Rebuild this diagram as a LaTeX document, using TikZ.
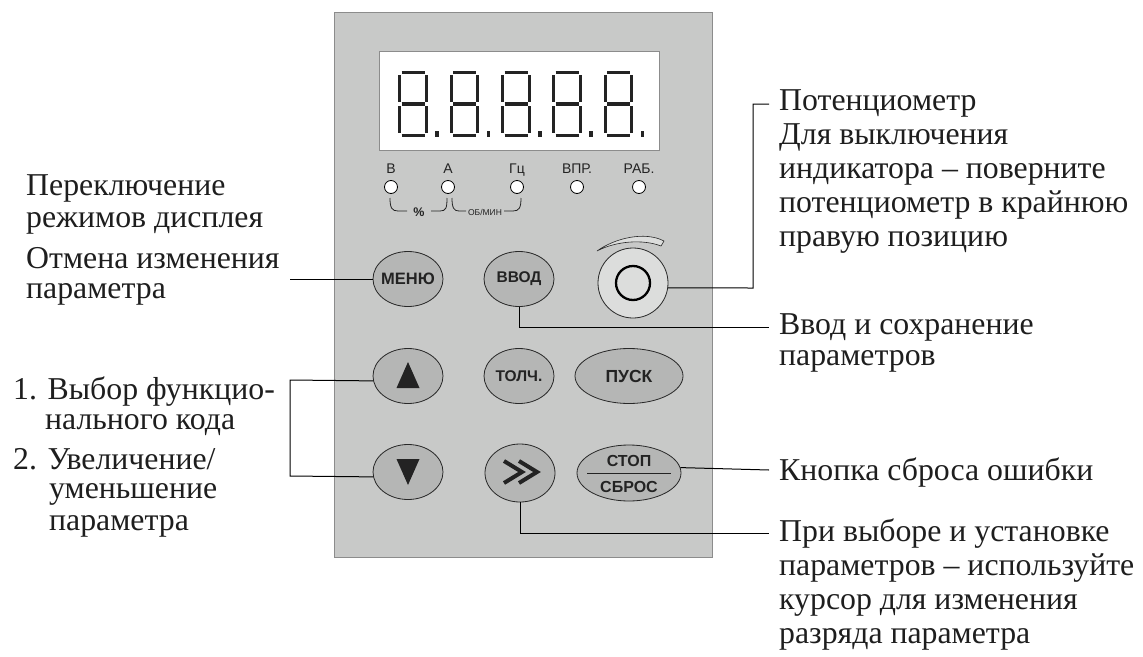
\documentclass[tikz,border=0pt]{standalone}
\usepackage{fontspec}
\setmainfont{Liberation Serif}
\setsansfont{Liberation Sans}
\usetikzlibrary{shapes.geometric}
\definecolor{panelc}{RGB}{200,201,200}
\definecolor{panelline}{RGB}{140,140,140}
\definecolor{btnfill}{RGB}{181,182,181}
\definecolor{btnline}{RGB}{40,40,40}
\definecolor{potc}{RGB}{220,221,220}
\definecolor{inkc}{RGB}{35,35,35}
\definecolor{txtc}{RGB}{30,30,30}
\tikzset{
  lbl/.style={font=\fontsize{31.8}{33}\selectfont, text=txtc, inner sep=0pt, anchor=base west},
  btn/.style={ellipse, draw=btnline, fill=btnfill, line width=0.8pt, inner sep=0pt,
    minimum width=70pt, minimum height=55pt, text=inkc},
  btxt/.style={font=\sffamily\bfseries\fontsize{15.5}{16}\selectfont},
  led/.style={circle, draw=black, fill=white, line width=0.8pt, minimum size=13pt, inner sep=0pt},
  ledlbl/.style={font=\sffamily\fontsize{14}{14}\selectfont, text=inkc, inner sep=0pt},
  conn/.style={draw=black, line width=1pt},
  seg/.style={draw=inkc, line width=3.2pt, line cap=butt},
  brk/.style={draw=inkc, line width=0.8pt}
}
\begin{document}
\begin{tikzpicture}[x=1pt,y=-1pt]
\useasboundingbox (0,0) rectangle (1143,656);
% panel
\draw[panelline, fill=panelc, line width=1pt] (334,12) rectangle (712,557);
% display
\draw[fill=white, draw=panelline, line width=0.8pt] (379,51) rectangle (659,150);
\foreach \x in {398,449.5,501,552,603.5}{
  \draw[seg] (\x+3.5,72.7) -- (\x+26.5,72.7);
  \draw[seg] (\x+1.7,75) -- (\x+1.7,102);
  \draw[seg] (\x+28.3,75) -- (\x+28.3,102);
  \draw[seg] (\x+3.5,104) -- (\x+26.5,104);
  \draw[seg] (\x+1.7,106) -- (\x+1.7,133);
  \draw[seg] (\x+28.3,106) -- (\x+28.3,133);
  \draw[seg] (\x+3.5,135.3) -- (\x+26.5,135.3);
  \fill[inkc] (\x+37,131) rectangle (\x+40.5,136.5);
}
% LEDs
\foreach \n/\x/\t in {l1/391/В, l2/448/А, l3/517/Гц, l4/577/ВПР., l5/639/РАБ.}{
  \node[led] (\n) at (\x,187) {};
  \node[ledlbl, anchor=base] (\n t) at (\x,173) {\t};
}
\draw[brk] (390,198) .. controls (390,208) and (392,211) .. (398,211) -- (407,211);
\draw[brk] (431,211) -- (440,211) .. controls (446,211) and (447,208) .. (447,198);
\node[font=\sffamily\bfseries\fontsize{12.5}{12}\selectfont, text=inkc, inner sep=0pt] (pct) at (419,212) {\%};
\draw[brk] (452,198) .. controls (452,208) and (454,211) .. (459,211) -- (466,211);
\draw[brk] (504,211) -- (513,211) .. controls (519,211) and (521,208) .. (521,198);
\node[font=\sffamily\fontsize{8.5}{9}\selectfont, text=inkc, inner sep=0pt] (rpm) at (485,212) {ОБ/МИН};
% buttons
\node[btn, btxt, font=\sffamily\bfseries\fontsize{16.5}{17}\selectfont] (menu) at (408,279) {\makebox[0pt]{МЕНЮ}};
\node[btn, btxt] (enter) at (519,279) {\makebox[0pt]{ВВОД}};
\node[btn] (up) at (408,376) {};
\fill[inkc] (408,362) -- (419.5,388) -- (396.5,388) -- cycle;
\node[btn, btxt] (jog) at (519,376) {\makebox[0pt]{ТОЛЧ.}};
\node[btn, btxt, minimum width=108pt, font=\sffamily\bfseries\fontsize{17.5}{18}\selectfont] (run) at (629,376) {\makebox[0pt]{ПУСК}};
\node[btn] (down) at (408,472) {};
\fill[inkc] (396.5,459) -- (419.5,459) -- (408,485) -- cycle;
\node[btn, minimum height=58pt] (shift) at (520,473) {};
\draw[draw=inkc, line width=4pt, line join=miter] (504,461) -- (522,472) -- (504,483);
\draw[draw=inkc, line width=4pt, line join=miter] (519,461) -- (537,472) -- (519,483);
\node[btn, minimum width=104pt, minimum height=56pt] (stop) at (629,473) {};
\node[btxt, font=\sffamily\bfseries\fontsize{16}{16}\selectfont, text=inkc, inner sep=0pt] (stopA) at (629,461) {СТОП};
\node[btxt, font=\sffamily\bfseries\fontsize{16}{16}\selectfont, text=inkc, inner sep=0pt] (stopB) at (629,487) {СБРОС};
\draw[draw=inkc, line width=0.8pt] (587,473.5) -- (671,473.5);
% potentiometer
\draw[fill=potc, draw=btnline, line width=0.6pt] (597,251) .. controls (615,238) and (645,231) .. (664,241) -- (661,246) .. controls (643,239) and (616,241) .. (597,251) -- cycle;
\node[circle, draw=btnline, fill=potc, line width=0.8pt, minimum size=70pt, inner sep=0pt] (pot) at (633,283) {};
\node[circle, draw=black, fill=potc, line width=2.3pt, minimum size=34pt, inner sep=0pt] (knob) at (pot) {};
% connector end points
\coordinate (aEnd) at (290,279);
\coordinate (bTop) at (290,380);
\coordinate (bBot) at (290,476);
\coordinate (cBend) at (753,288);
\coordinate (cTop) at (753,104);
\coordinate (cEnd) at (769,104);
\coordinate (dBend) at (519,327);
\coordinate (dEnd) at (769,327);
\coordinate (eEnd) at (769,470);
\coordinate (fBend) at (520,533);
\coordinate (fEnd) at (769,533);
% connectors
\draw[conn] (menu.west) -- (aEnd);
\draw[conn] (up.-172) -- (bTop) -- (bBot) -- (down.-172);
\draw[conn] (pot.-8) -- (cBend) -- (cTop) -- (cEnd);
\draw[conn] (enter.south) -- (dBend) -- (dEnd);
\draw[conn] (stop.6) -- (eEnd);
\draw[conn] (shift.south) -- (fBend) -- (fEnd);
% left texts
\node[lbl] (a1) at (26,195) {Переключение};
\node[lbl] (a2) at (26,227) {режимов дисплея};
\node[lbl] (a3) at (26,268) {Отмена изменения};
\node[lbl] (a4) at (26,298) {параметра};
\node[lbl] (b1) at (13,399) {1. Выбор функцио-};
\node[lbl] (b2) at (45,429) {нального кода};
\node[lbl] (b3) at (13,469) {2. Увеличение/};
\node[lbl] (b4) at (49,498) {уменьшение};
\node[lbl] (b5) at (49,530) {параметра};
% right texts
\node[lbl] (c1) at (779,110) {Потенциометр};
\node[lbl] (c2) at (779,144) {Для выключения};
\node[lbl] (c3) at (779,178) {индикатора – поверните};
\node[lbl] (c4) at (779,212) {потенциометр в крайнюю};
\node[lbl] (c5) at (779,246) {правую позицию};
\node[lbl] (d1) at (779,334) {Ввод и сохранение};
\node[lbl] (d2) at (779,365) {параметров};
\node[lbl] (e1) at (779,480) {Кнопка сброса ошибки};
\node[lbl] (f1) at (779,541) {При выборе и установке};
\node[lbl] (f2) at (779,575) {параметров – используйте};
\node[lbl] (f3) at (779,609) {курсор для изменения};
\node[lbl] (f4) at (779,643) {разряда параметра};
\end{tikzpicture}
\end{document}
